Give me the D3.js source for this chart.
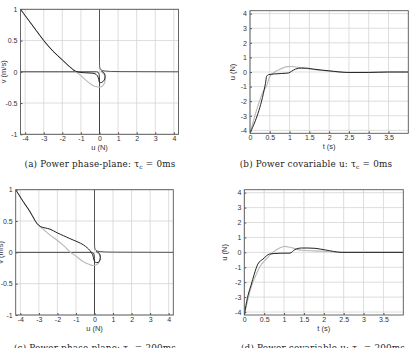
<!DOCTYPE html>
<html>
<head>
<meta charset="utf-8">
<script src="https://cdn.jsdelivr.net/npm/d3@7"></script>
<style>
  body { margin: 0; background: #fff; }
  svg { display: block; }
  .tick { font-family: "Liberation Sans", Arial, sans-serif; font-size: 7px; fill: #333; }
  .lab { font-family: "Liberation Sans", Arial, sans-serif; font-size: 7.5px; fill: #333; }
  .cap { font-family: "DejaVu Serif", serif; font-size: 8.8px; letter-spacing: 0.2px; fill: #222; }
</style>
</head>
<body>
<svg id="chart" width="411" height="348"></svg>
<script>
// phase-plane ticks
const phaseXTicks = [-4, -3, -2, -1, 0, 1, 2, 3, 4];
const phaseYTicks = [-1, -0.5, 0, 0.5, 1];
// covariable ticks
const timeTicks = [0, 0.5, 1, 1.5, 2, 2.5, 3, 3.5];
const covYTicks = [-4, -3, -2, -1, 0, 1, 2, 3, 4];

// (a) tau_c = 0ms, points are [u, v]
const aBlack = [[-4.25,1],[-3.8,0.82],[-3.4,0.66],[-3,0.5],[-2.5,0.33],[-2,0.19],[-1.6,0.08],[-1.3,0.01],
  [-1,-0.01],[-0.5,-0.02],[-0.25,-0.03],[-0.12,-0.06],[-0.04,-0.12],[0,-0.17],[0.12,-0.17],[0.26,-0.13],
  [0.3,-0.06],[0.22,-0.01],[0.1,0.01]];
const aGray = [[-4.25,1],[-3.8,0.82],[-3.4,0.66],[-3,0.5],[-2.5,0.33],[-2,0.19],[-1.6,0.08],[-1.3,0.01],
  [-1,-0.06],[-0.7,-0.14],[-0.4,-0.21],[-0.15,-0.24],[0.1,-0.24],[0.25,-0.19],[0.31,-0.1],[0.22,-0.03],[0.1,0]];
// (c) tau_c = 200ms
const cBlack = [[-4.25,1],[-3.8,0.79],[-3.5,0.66],[-3.25,0.53],[-3.1,0.46],[-2.9,0.41],[-2.4,0.37],[-2,0.31],
  [-1.33,0.22],[-0.6,0.12],[-0.25,0.03],[-0.1,-0.04],[-0.02,-0.13],[0.05,-0.16],[0.2,-0.16],[0.3,-0.12],
  [0.3,-0.04],[0.2,0],[0.08,0.01]];
const cGray = [[-4.25,1],[-3.8,0.79],[-3.5,0.66],[-3.25,0.53],[-3.1,0.46],[-2.8,0.38],[-2.41,0.28],[-2,0.19],
  [-1.6,0.09],[-1.33,0.01],[-1,-0.06],[-0.6,-0.15],[-0.3,-0.19],[-0.07,-0.21],[0.2,-0.18],[0.3,-0.1],
  [0.25,-0.03],[0.13,0]];
// trajectories along the axes (same in both phase planes)
const upperHook = [[0,1],[0,0.15],[0.005,0.1],[0.015,0.07],[0.04,0.045],[0.08,0.03],[0.15,0.02],
  [0.3,0.012],[0.6,0.006],[1.2,0.003],[4.25,0]];
const lowerHook = [[-4.25,0],[-0.15,0],[-0.06,-0.01],[-0.02,-0.04],[0,-0.1],[0,-1]];

// (b) and (d), points are [t, u]
const bBlack = [[0,-4.2],[0.36,-1.2],[0.39,-0.8],[0.42,-0.3],[0.47,-0.18],[0.59,-0.14],[0.8,-0.1],[0.97,-0.07],
  [1.05,0.05],[1.15,0.2],[1.3,0.27],[1.45,0.26],[1.6,0.2],[2,0.08],[2.5,-0.03],[3,-0.03],[3.5,0],[4,0]];
const bGray = [[0,-4.2],[0.36,-1.2],[0.42,-0.95],[0.5,-0.3],[0.6,-0.05],[0.72,0.14],[0.85,0.3],[0.95,0.37],
  [1.05,0.38],[1.2,0.33],[1.4,0.24],[1.7,0.14],[2,0.06],[2.5,-0.03],[3,-0.02],[3.5,0],[4,0]];
const dBlack = [[0,-4.2],[0.08,-3.04],[0.17,-2.2],[0.25,-1.47],[0.34,-0.79],[0.47,-0.45],[0.64,-0.11],
  [0.9,-0.06],[1.15,-0.05],[1.27,0.18],[1.44,0.29],[1.6,0.29],[1.78,0.27],[2.04,0.16],[2.46,0],[3,0],[4,0]];
const dGray = [[0,-4.2],[0.17,-2.36],[0.28,-1.6],[0.38,-1.01],[0.55,-0.45],[0.72,0],[0.89,0.29],[1.02,0.4],
  [1.15,0.34],[1.44,0.14],[1.95,0.08],[2.46,0],[3,0],[4,0]];

const svg = d3.select("#chart");
const fmt = d => String(d);

function panel(cfg) {
  const x = d3.scaleLinear().domain(cfg.xDomain).range([cfg.left, cfg.right]);
  const y = d3.scaleLinear().domain(cfg.yDomain).range([cfg.bottom, cfg.top]);
  const g = svg.append("g");

  // grid
  g.selectAll(".gx").data(cfg.xTicks).enter().append("line")
    .attr("x1", d => x(d)).attr("x2", d => x(d))
    .attr("y1", cfg.top).attr("y2", cfg.bottom)
    .attr("stroke", "#d4d4d4").attr("stroke-width", 0.8);
  g.selectAll(".gy").data(cfg.yTicks).enter().append("line")
    .attr("x1", cfg.left).attr("x2", cfg.right)
    .attr("y1", d => y(d)).attr("y2", d => y(d))
    .attr("stroke", "#d4d4d4").attr("stroke-width", 0.8);

  // curves
  const curves = {
    mono: d3.curveMonotoneX,
    free: d3.curveCatmullRom.alpha(0.5),
    lin: d3.curveLinear
  };
  const clip = "clip" + cfg.id;
  g.append("clipPath").attr("id", clip).append("rect")
    .attr("x", cfg.left).attr("y", cfg.top)
    .attr("width", cfg.right - cfg.left).attr("height", cfg.bottom - cfg.top);
  const cg = g.append("g").attr("clip-path", "url(#" + clip + ")");
  cfg.series.forEach(s => {
    const line = d3.line().x(d => x(d[0])).y(d => y(d[1])).curve(curves[s.curve]);
    cg.append("path").attr("d", line(s.data))
      .attr("fill", "none").attr("stroke", s.color).attr("stroke-width", s.width || 1)
      .attr("stroke-linejoin", "round");
  });

  // box
  g.append("rect").attr("x", cfg.left).attr("y", cfg.top)
    .attr("width", cfg.right - cfg.left).attr("height", cfg.bottom - cfg.top)
    .attr("fill", "none").attr("stroke", "#555").attr("stroke-width", 0.9);

  // axes (inner ticks)
  const xa = d3.axisBottom(x).tickValues(cfg.xTicks).tickSize(-2).tickPadding(2).tickFormat(fmt);
  const ya = d3.axisLeft(y).tickValues(cfg.yTicks).tickSize(-2).tickPadding(3).tickFormat(fmt);
  const gx = g.append("g").attr("transform", "translate(0," + cfg.bottom + ")").call(xa);
  const gy = g.append("g").attr("transform", "translate(" + cfg.left + ",0)").call(ya);
  [gx, gy].forEach(a => {
    a.select(".domain").remove();
    a.selectAll("line").attr("stroke", "#555");
    a.selectAll("text").attr("class", "tick").attr("fill", "#333");
  });

  g.append("text").attr("class", "lab").attr("text-anchor", "middle")
    .attr("x", (cfg.left + cfg.right) / 2).attr("y", cfg.bottom + 16).text(cfg.xLabel);
  g.append("text").attr("class", "lab").attr("text-anchor", "middle")
    .attr("transform", "translate(" + (cfg.left - cfg.yLabelOff) + "," + ((cfg.top + cfg.bottom) / 2) + ") rotate(-90)")
    .text(cfg.yLabel);

  const cap = g.append("text").attr("class", "cap").attr("text-anchor", "middle")
    .attr("x", cfg.capX).attr("y", cfg.capY);
  cap.append("tspan").text(cfg.caption + " \u03c4");
  cap.append("tspan").attr("dy", 2).attr("font-size", "6px").text("c");
  cap.append("tspan").attr("dy", -2).text(" = " + cfg.delay);
}

panel({
  id: "a", xDomain: [-4.25, 4.25], yDomain: [-1, 1],
  left: 20.5, right: 178.5, top: 9.3, bottom: 134.3,
  xTicks: phaseXTicks, yTicks: phaseYTicks, xLabel: "u (N)", yLabel: "v (m/s)", yLabelOff: 15,
  capX: 100, capY: 166.5, caption: "(a)  Power phase-plane:", delay: "0ms",
  series: [
    { data: upperHook, color: "#555", curve: "lin" },
    { data: lowerHook, color: "#444", curve: "lin" },
    { data: aGray, color: "#b8b8b8", curve: "free", width: 1.1 },
    { data: aBlack, color: "#222", curve: "free" }
  ]
});
panel({
  id: "b", xDomain: [0, 4], yDomain: [-4.2, 4.2],
  left: 250, right: 408.3, top: 10.7, bottom: 133.3,
  xTicks: timeTicks, yTicks: covYTicks, xLabel: "t (s)", yLabel: "u (N)", yLabelOff: 15,
  capX: 316, capY: 166.5, caption: "(b)  Power covariable u:", delay: "0ms",
  series: [
    { data: bGray, color: "#b8b8b8", curve: "mono", width: 1.1 },
    { data: bBlack, color: "#222", curve: "mono" }
  ]
});
panel({
  id: "c", xDomain: [-4.25, 4.25], yDomain: [-1, 1],
  left: 15.7, right: 173.3, top: 189.7, bottom: 315,
  xTicks: phaseXTicks, yTicks: phaseYTicks, xLabel: "u (N)", yLabel: "v (m/s)", yLabelOff: 13,
  capX: 95, capY: 351, caption: "(c)  Power phase-plane:", delay: "200ms",
  series: [
    { data: upperHook, color: "#555", curve: "lin" },
    { data: lowerHook, color: "#444", curve: "lin" },
    { data: cGray, color: "#b8b8b8", curve: "free", width: 1.1 },
    { data: cBlack, color: "#222", curve: "free" }
  ]
});
panel({
  id: "d", xDomain: [0, 4], yDomain: [-4.2, 4.2],
  left: 244.3, right: 403.3, top: 189.7, bottom: 315,
  xTicks: timeTicks, yTicks: covYTicks, xLabel: "t (s)", yLabel: "u (N)", yLabelOff: 17,
  capX: 323, capY: 351, caption: "(d)  Power covariable u:", delay: "200ms",
  series: [
    { data: dGray, color: "#b8b8b8", curve: "mono", width: 1.1 },
    { data: dBlack, color: "#222", curve: "mono" }
  ]
});
</script>
</body>
</html>
